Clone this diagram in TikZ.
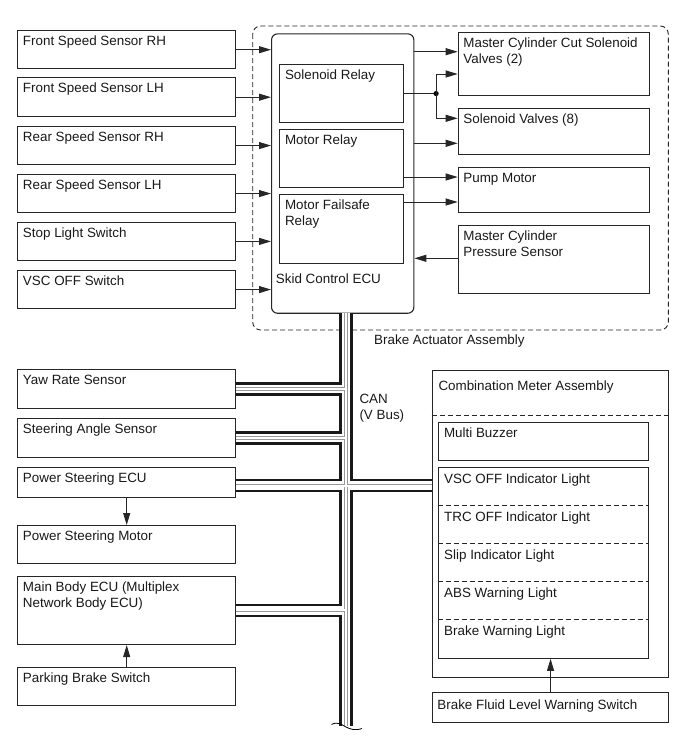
\documentclass[tikz,border=0pt]{standalone}
\usepackage{fontspec}
\setmainfont{Liberation Sans}
\usetikzlibrary{arrows.meta,calc}
\newcommand{\fsz}{\fontsize{13.4pt}{16pt}\selectfont}
\begin{document}
\begin{tikzpicture}[x=1pt,y=-1pt,
  box/.style={draw=black!85, line width=1.1pt, inner sep=0pt, anchor=north west, fill=white},
  txt/.style={anchor=base west, inner sep=0pt, font=\fsz, align=left, text=black!90},
  arr/.style={-{Triangle[length=12pt,width=7pt]}, line width=0.9pt, draw=black!85},
  dsh/.style={dash pattern=on 5pt off 3pt, line width=0.9pt, draw=black!85}]
\useasboundingbox (0,0) rectangle (689,756);
\newcommand{\mkbox}[6]{%
  \node[box, minimum width=#4pt, minimum height=#5pt] (#1) at (#2,#3) {};
  \node[txt] (#1t) at ($(#1.north west)+(5.5,15.5)$) {#6};}
\newcommand{\mkboxtwo}[6]{%
  \node[box, minimum width=#4pt, minimum height=#5pt] (#1) at (#2,#3) {};
  \node[txt] (#1t) at ($(#1.north west)+(5.5,31.5)$) {#6};}
% brake actuator frame
\draw[dsh, rounded corners=8pt] (252.7,26) rectangle (668.3,330);
\node[txt] (bal) at (374,344) {Brake Actuator Assembly};
% left input boxes
\mkbox{fsrh}{17.3}{30}{217.7}{38.3}{Front Speed Sensor RH}
\mkbox{fslh}{17.3}{77.3}{217.7}{38.7}{Front Speed Sensor LH}
\mkbox{rsrh}{17.3}{126}{217.7}{38}{Rear Speed Sensor RH}
\mkbox{rslh}{17.3}{174}{217.7}{38}{Rear Speed Sensor LH}
\mkbox{stop}{17.3}{221.7}{217.7}{38.3}{Stop Light Switch}
\mkbox{vsc}{17.3}{270}{217.7}{38}{VSC OFF Switch}
% ECU
\node[box, rounded corners=6pt, minimum width=142.3pt, minimum height=279.4pt] (ecu) at (271,33.3) {};
\node[txt] (ecut) at (275.7,283) {Skid Control ECU};
\mkbox{sr}{279.3}{64.3}{123.4}{57.4}{Solenoid Relay}
\mkbox{mr}{279.3}{129.3}{123.4}{57.4}{Motor Relay}
\mkboxtwo{mfr}{279.3}{194.3}{123.4}{69}{Motor Failsafe\\Relay}
% right boxes
\mkboxtwo{mccut}{457.7}{32.3}{191.6}{62.7}{Master Cylinder Cut Solenoid\\Valves (2)}
\mkbox{sv}{457.7}{107.7}{191.6}{46.3}{Solenoid Valves (8)}
\mkbox{pump}{457.7}{166.7}{191.6}{45}{Pump Motor}
\mkboxtwo{mcps}{457.7}{225}{191.6}{68.3}{Master Cylinder\\Pressure Sensor}
% left arrows
\foreach \n in {fsrh,fslh,rsrh,rslh,stop,vsc}
  \draw[arr] (\n.east) -- (\n.east -| ecu.west);
% right arrows
\coordinate (j) at ($(sr.east)+(32.3,0)$);
\draw[arr] (ecu.east |- 0,51.7) -- (mccut.west |- 0,51.7);
\draw[line width=0.9pt, draw=black!85] (sr.east) -- (j);
\fill[black] (j) circle (2.6pt);
\draw[arr] (j) |- (mccut.west |- 0,74);
\draw[arr] (j) |- (sv.west |- 0,118.3);
\draw[arr] (ecu.east |- 0,143.3) -- (sv.west |- 0,143.3);
\draw[arr] (mr.east |- 0,177) -- (pump.west |- 0,177);
\draw[arr] (mfr.east |- 0,202) -- (pump.west |- 0,202);
\draw[arr] (mcps.west |- 0,258.3) -- (ecu.east |- 0,258.3);
% lower left boxes
\mkbox{yaw}{17.3}{369.3}{217.7}{38.4}{Yaw Rate Sensor}
\mkbox{steer}{17.3}{418.3}{217.7}{38.4}{Steering Angle Sensor}
\mkbox{psecu}{17.3}{466.7}{217.7}{30}{Power Steering ECU}
\mkbox{psm}{17.3}{525}{217.7}{38.3}{Power Steering Motor}
\mkboxtwo{mbecu}{17.3}{575.7}{217.7}{68.3}{Main Body ECU (Multiplex\\Network Body ECU)}
\mkbox{pbs}{17.3}{666.7}{217.7}{38.3}{Parking Brake Switch}
\draw[arr] (psecu.south) -- (psm.north);
\draw[arr] (pbs.north) -- (mbecu.south);
% combination meter
\node[box, minimum width=236.6pt, minimum height=306.7pt] (cma) at (431.7,370) {};
\node[txt] (cmat) at (438.3,390.3) {Combination Meter Assembly};
\draw[dsh] (cma.west |- 0,415) -- (cma.east |- 0,415);
\mkbox{mb}{438.3}{422.3}{210}{37.7}{Multi Buzzer}
\node[box, minimum width=210pt, minimum height=190.4pt] (ind) at (438.3,467.3) {};
\foreach \yy in {505.7,543.3,581.7,619.3}
  \draw[dsh] (ind.west |- 0,\yy) -- (ind.east |- 0,\yy);
\node[txt] (l1) at (444,483.5) {VSC OFF Indicator Light};
\node[txt] (l2) at (444,521.7) {TRC OFF Indicator Light};
\node[txt] (l3) at (444,559.3) {Slip Indicator Light};
\node[txt] (l4) at (444,597.7) {ABS Warning Light};
\node[txt] (l5) at (444,635.3) {Brake Warning Light};
\node[box, minimum width=236.6pt, minimum height=29.4pt] (bfl) at (431.7,692.3) {};
\node[txt] (bflt) at (437.2,709.5) {Brake Fluid Level Warning Switch};
\draw[arr] (bfl.north |- 0,692.3) -- (bfl.north |- ind.south);
% CAN bus
\coordinate (bt) at (346,313);
\coordinate (bb) at (346,726);
\foreach \w/\c in {13.5/black!90, 8.8/white, 3.6/black!40, 2.0/white}{
  \draw[line width=\w pt, draw=\c]
    (bt) -- (bb)
    (yaw.east) -- (yaw.east -| bt)
    (steer.east) -- (steer.east -| bt)
    (psecu.east |- 0,485.5) -- (cma.west |- 0,485.5)
    (mbecu.east) -- (mbecu.east -| bt);
}
\draw[line width=0.8pt] (331.5,724.5) .. controls (338,721) and (342,725) .. (346,727) .. controls (350,729) and (355,731) .. (362,728.5);
\node[txt] (can) at (359.3,419.6) {CAN\\(V Bus)};
\end{tikzpicture}
\end{document}
